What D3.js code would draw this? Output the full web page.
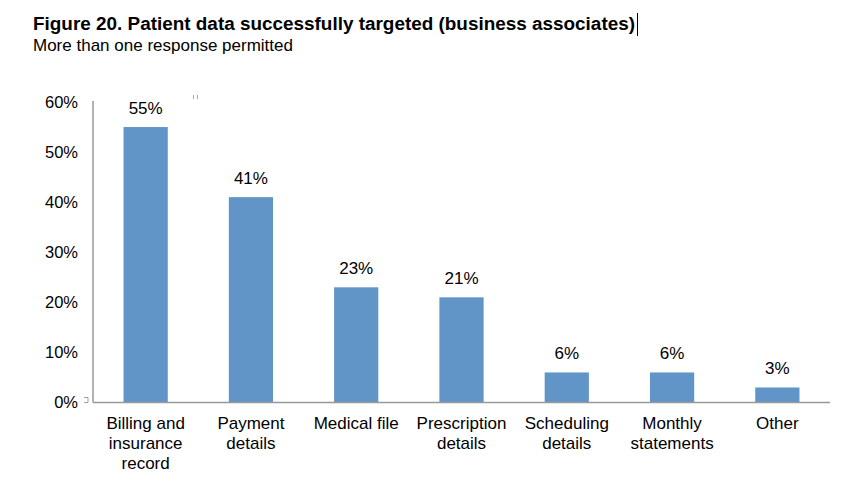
<!DOCTYPE html>
<html><head><meta charset="utf-8">
<script src="https://cdn.jsdelivr.net/npm/d3@7"></script>
<style>body{margin:0;background:#fff;}svg{display:block;font-family:"Liberation Sans",Arial,sans-serif;}</style>
</head><body><svg id="c" width="856" height="501"></svg>
<script>
const categories = [["Billing and","insurance","record"],["Payment","details"],["Medical file"],["Prescription","details"],["Scheduling","details"],["Monthly","statements"],["Other"]];
const values = [55, 41, 23, 21, 6, 6, 3];
const yTicks = [0, 10, 20, 30, 40, 50, 60];
const title = "Figure 20. Patient data successfully targeted (business associates)";
const subtitle = "More than one response permitted";

(function () {
const svg = d3.select("#c");
const pL = 93, pR = 830, pT = 102, pB = 402.5;
const x = d3.scaleBand().domain(d3.range(categories.length)).range([pL, pR]).paddingInner(0.58).paddingOuter(0.29);
const y = d3.scaleLinear().domain([0, 60]).range([pB, pT]);

svg.append("text").attr("x", 33).attr("y", 29.5).attr("font-size", 18.9).attr("font-weight", "bold").attr("fill", "#000").attr("textLength", 602).text(title);
svg.append("line").attr("x1", 637.5).attr("x2", 637.5).attr("y1", 13).attr("y2", 36).attr("stroke", "#000").attr("stroke-width", 1);
svg.append("text").attr("x", 33).attr("y", 50.5).attr("font-size", 17).attr("fill", "#000").attr("textLength", 260).text(subtitle);

svg.selectAll("rect.bar").data(values).join("rect").attr("class", "bar")
  .attr("x", (d, i) => x(i)).attr("width", x.bandwidth())
  .attr("y", d => y(d)).attr("height", d => y(0) - y(d))
  .attr("fill", "#6194C7");

svg.selectAll("text.val").data(values).join("text").attr("class", "val")
  .attr("x", (d, i) => x(i) + x.bandwidth() / 2).attr("y", d => y(d) - 13)
  .attr("text-anchor", "middle").attr("font-size", 17).attr("fill", "#000").text(d => d + "%");

svg.append("line").attr("x1", pL).attr("x2", pL).attr("y1", pT - 1).attr("y2", pB).attr("stroke", "#999").attr("stroke-width", 1.5);
svg.append("line").attr("x1", pL).attr("x2", pR).attr("y1", pB).attr("y2", pB).attr("stroke", "#999").attr("stroke-width", 1.5);

svg.selectAll("text.yt").data(yTicks).join("text").attr("class", "yt")
  .attr("x", 78).attr("y", d => y(d)).attr("dy", "0.35em").attr("text-anchor", "end")
  .attr("font-size", 16.5).attr("fill", "#000").text(d => d + "%");

categories.forEach((lines, i) => {
  const cx = x(i) + x.bandwidth() / 2;
  const t = svg.append("text").attr("x", cx).attr("y", 429)
    .attr("text-anchor", "middle").attr("font-size", 17).attr("fill", "#000");
  lines.forEach((l, j) => t.append("tspan").attr("x", cx).attr("dy", j === 0 ? 0 : 20).text(l));
});

svg.append("path").attr("d", "M84,397.5H88V402.5H84").attr("fill", "none").attr("stroke", "#888").attr("stroke-width", 0.8);
svg.append("line").attr("x1", 193.5).attr("x2", 193.5).attr("y1", 95).attr("y2", 99).attr("stroke", "#aaa");
svg.append("line").attr("x1", 197.5).attr("x2", 197.5).attr("y1", 95).attr("y2", 99).attr("stroke", "#aaa");
})();
</script></body></html>
